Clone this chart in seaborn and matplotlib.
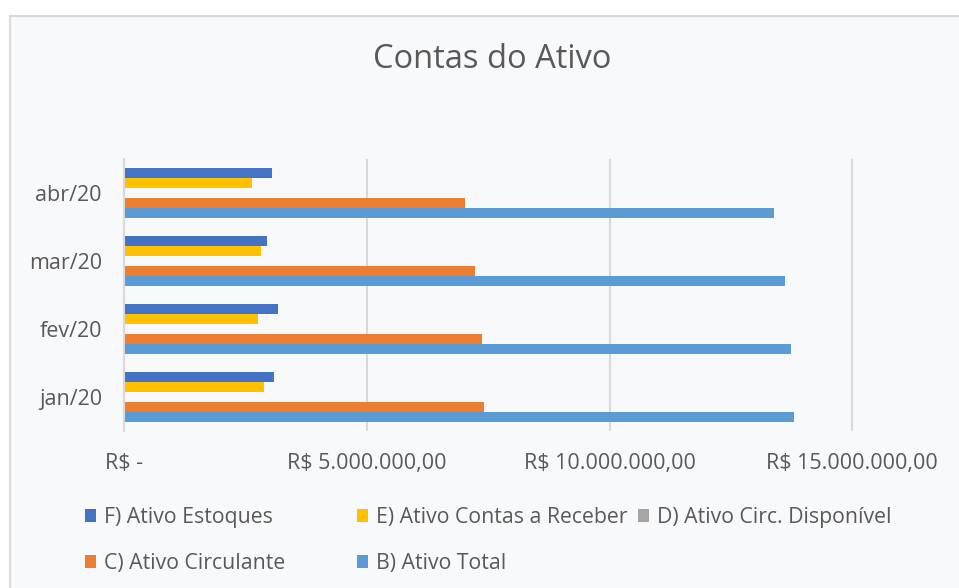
import matplotlib
matplotlib.use("Agg")
import matplotlib.pyplot as plt
from matplotlib.patches import Rectangle, Patch
from matplotlib.ticker import FuncFormatter
import seaborn as sns
import pandas as pd

# ---- data ----
meses = ["jan/20", "fev/20", "mar/20", "abr/20"]
series = ["F) Ativo Estoques", "E) Ativo Contas a Receber", "D) Ativo Circ. Disponível",
          "C) Ativo Circulante", "B) Ativo Total"]
ativo_estoques = [3.09e6, 3.17e6, 2.94e6, 3.04e6]
ativo_receber = [2.88e6, 2.75e6, 2.83e6, 2.64e6]
ativo_disponivel = [0.03e6, 0.02e6, 0.03e6, 0.02e6]
ativo_circulante = [7.42e6, 7.37e6, 7.23e6, 7.02e6]
ativo_total = [13.79e6, 13.73e6, 13.62e6, 13.39e6]
x_ticks = [0, 5e6, 10e6, 15e6]
cores = ["#4472C4", "#FFC000", "#A5A5A5", "#ED7D31", "#5B9BD5"]

valores = [ativo_estoques, ativo_receber, ativo_disponivel, ativo_circulante, ativo_total]
rows = []
for s, vals in zip(series, valores):
    for m, v in zip(meses, vals):
        rows.append({"mes": m, "serie": s, "valor": v})
df = pd.DataFrame(rows)

sns.set_style("white")
plt.rcParams["font.family"] = ["Open Sans", "DejaVu Sans"]
txt = "#595959"
grid_c = "#D9D9D9"

W, H = 959, 588
fig = plt.figure(figsize=(W / 100, H / 100), dpi=100)
fig.patch.set_facecolor("white")
fig.patches.append(Rectangle((10 / W, -0.1), 1.2, 1.1 - 16 / H, transform=fig.transFigure,
                             facecolor="#F8F9FB", edgecolor=grid_c, lw=1.5, zorder=-10))

ax = fig.add_axes([124 / W, 1 - 431 / H, 1 - 124 / W, (431 - 159) / H])
ax.set_facecolor("none")

sns.barplot(data=df, x="valor", y="mes", hue="serie", order=meses[::-1], hue_order=series,
            palette=cores, orient="h", width=0.73, errorbar=None, legend=False,
            saturation=1, linewidth=0, ax=ax)

ax.set_xlim(0, (W - 124) / 48.55 * 1e6)
ax.set_ylim(3.5, -0.5)
ax.set_xticks(x_ticks)


def fmt(v, pos):
    if v == 0:
        return "R$ -"
    s = f"{v:,.2f}".replace(",", "X").replace(".", ",").replace("X", ".")
    return "R$ " + s


ax.xaxis.set_major_formatter(FuncFormatter(fmt))
ax.grid(axis="x", color=grid_c, lw=1.5)
ax.grid(axis="y", visible=False)
ax.set_axisbelow(True)
for sp in ["top", "right", "bottom"]:
    ax.spines[sp].set_visible(False)
ax.spines["left"].set_color(grid_c)
ax.spines["left"].set_linewidth(1.5)
ax.set_xlabel("")
ax.set_ylabel("")
ax.tick_params(axis="x", length=0, pad=16, labelsize=15.5, labelcolor=txt)
ax.tick_params(axis="y", which="major", length=0, pad=16, labelsize=15.5, labelcolor=txt)
ax.set_yticks([-0.5, 0.5, 1.5, 2.5, 3.5], minor=True)
ax.tick_params(axis="y", which="minor", length=5, width=1.5, color=grid_c)

fig.text(492 / W, 1 - 59 / H, "Contas do Ativo", ha="center", va="center",
         fontsize=23.5, color=txt)

handles = {s: Patch(facecolor=c, edgecolor="none") for s, c in zip(series, cores)}
colunas = [([series[0], series[3]], 85), ([series[1], series[4]], 357), ([series[2]], 638)]
for labels, xpx in colunas:
    leg = fig.legend([handles[l] for l in labels], labels, loc="upper left",
                     bbox_to_anchor=(xpx / W, 1 - 507 / H), frameon=False, fontsize=15.3,
                     handlelength=0.52, handleheight=0.52, handletextpad=0.38,
                     labelspacing=1.17, borderpad=0, borderaxespad=0)
    for t in leg.get_texts():
        t.set_color(txt)

fig.savefig("out.png", dpi=100, facecolor=fig.get_facecolor())
